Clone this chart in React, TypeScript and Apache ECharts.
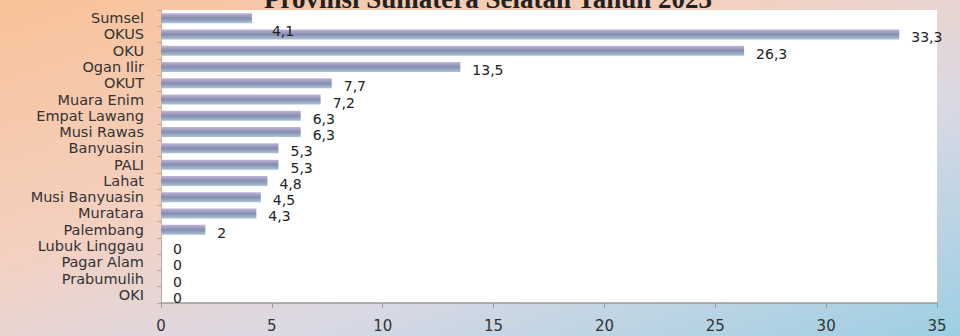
import React, { useEffect, useRef } from "react";
import * as echarts from "echarts";

const categories = [
  "Sumsel", "OKUS", "OKU", "Ogan Ilir", "OKUT", "Muara Enim", "Empat Lawang",
  "Musi Rawas", "Banyuasin", "PALI", "Lahat", "Musi Banyuasin", "Muratara",
  "Palembang", "Lubuk Linggau", "Pagar Alam", "Prabumulih", "OKI",
];
const values = [4.1, 33.3, 26.3, 13.5, 7.7, 7.2, 6.3, 6.3, 5.3, 5.3, 4.8, 4.5, 4.3, 2, 0, 0, 0, 0];
const xTicks = [0, 5, 10, 15, 20, 25, 30, 35];
const titleText = "Provinsi Sumatera Selatan Tahun 2023";

export default function App() {
  const ref = useRef<HTMLDivElement>(null);
  useEffect(() => {
    if (!ref.current) return;
    const chart = echarts.init(ref.current, undefined, { renderer: "svg" });
    const barColor = new echarts.graphic.LinearGradient(0, 0, 0, 1, [
      { offset: 0, color: "#bdb6da" },
      { offset: 0.5, color: "#878cae" },
      { offset: 1, color: "#a9c4d6" },
    ]);
    const data = values.map((v, i) => ({
      value: v,
      label: i === 0 ? { offset: [10, 13] } : undefined,
    }));
    chart.setOption({
      animation: false,
      backgroundColor: new echarts.graphic.LinearGradient(0, 0, 1, 1, [
        { offset: 0, color: "#f8c298" },
        { offset: 0.38, color: "#f4d0c0" },
        { offset: 0.64, color: "#dbd9e4" },
        { offset: 1, color: "#9ccfe3" },
      ]),
      graphic: [
        {
          type: "text",
          x: 488,
          y: 12,
          style: {
            text: titleText,
            textAlign: "center",
            textVerticalAlign: "bottom",
            font: "bold 27px 'Liberation Serif', serif",
            fill: "#222",
          },
        },
      ],
      grid: {
        left: 161,
        right: 23,
        top: 10,
        bottom: 33,
        show: true,
        backgroundColor: "#ffffff",
        borderWidth: 0,
      },
      xAxis: {
        type: "value",
        min: xTicks[0],
        max: xTicks[xTicks.length - 1],
        interval: 5,
        splitLine: { show: false },
        axisLine: { show: true, lineStyle: { color: "#9a9a9a", width: 1.5 } },
        axisTick: { show: true, length: 5, lineStyle: { color: "#9a9a9a" } },
        axisLabel: {
          margin: 15,
          fontFamily: "DejaVu Sans",
          fontSize: 15,
          color: "#333",
        },
      },
      yAxis: {
        type: "category",
        inverse: true,
        data: categories,
        axisLine: { show: true, lineStyle: { color: "#b8b0ac" } },
        axisTick: { show: true, length: 4, lineStyle: { color: "#c9a88e" } },
        axisLabel: {
          interval: 0,
          hideOverlap: false,
          margin: 17,
          fontFamily: "DejaVu Sans",
          fontSize: 14.5,
          color: "#333",
          lineHeight: 14,
        },
      },
      series: [
        {
          type: "bar",
          data,
          barWidth: 10,
          itemStyle: { color: barColor },
          label: {
            show: true,
            position: "right",
            distance: 10,
            offset: [2, 3],
            fontFamily: "DejaVu Sans",
            fontSize: 14,
            color: "#222",
            formatter: (p: any) => String(p.value).replace(".", ","),
          },
        },
      ],
    });
    return () => chart.dispose();
  }, []);
  return (
    <div
      ref={ref}
      style={{ position: "fixed", left: 0, top: 0, width: 960, height: 336 }}
    />
  );
}
